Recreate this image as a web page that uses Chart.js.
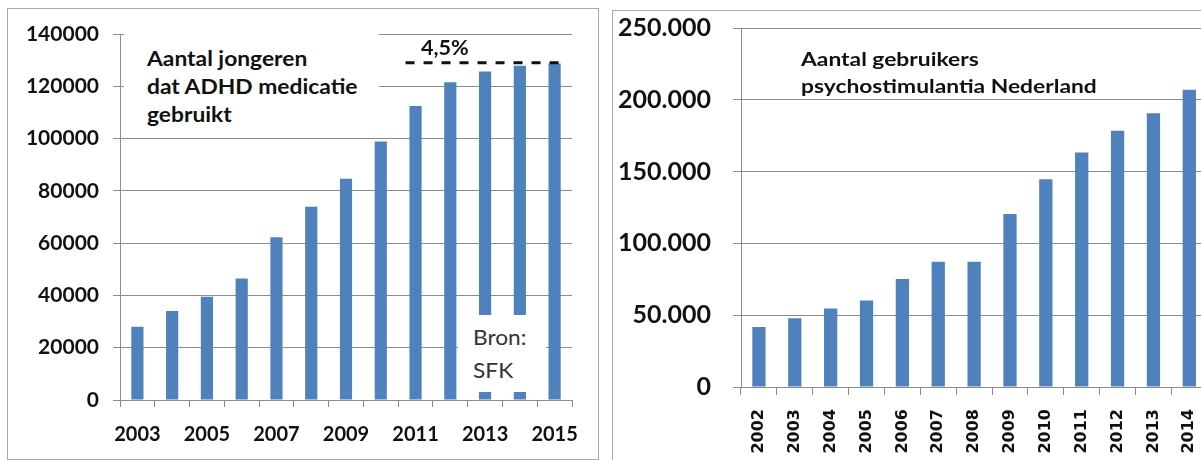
<!DOCTYPE html>
<html>
<head>
<meta charset="utf-8">
<script src="https://cdn.jsdelivr.net/npm/chart.js@4.4.0/dist/chart.umd.min.js"></script>
<style>
  body { margin: 0; background: #fff; }
  #page { position: relative; width: 1201px; height: 460px; overflow: hidden; background: #fff; }
  .panel { position: absolute; border: 1px solid #a9a9a9; box-sizing: border-box; }
  .box { position: absolute; }
  .note { position: absolute; font-family: Lato, sans-serif; color: #111; white-space: nowrap; transform-origin: 0 0; }
</style>
</head>
<body>
<div id="page">
  <div class="panel" style="left:7px; top:8px; width:592px; height:452px;"></div>
  <div class="panel" style="left:612px; top:10px; width:620px; height:460px;"></div>

  <div class="box" style="left:8px; top:8px; width:590px; height:450px;"><canvas id="leftChart"></canvas></div>
  <div class="box" style="left:613px; top:10px; width:610px; height:450px;"><canvas id="rightChart"></canvas></div>

  <div class="note" style="left:124px; top:30px; width:255px; height:103px; background:#fff;"></div>
  <div class="note" style="left:147px; top:44px; font-size:20px; font-weight:bold; line-height:28px; transform:scaleX(1.14);">Aantal jongeren<br>dat ADHD medicatie<br>gebruikt</div>
  <div class="note" style="left:421px; top:35px; font-size:20px; font-weight:bold; transform:scaleX(1.08);">4,5%</div>
  <div class="note" style="left:458px; top:315px; width:88px; height:77px; background:#fff;"></div>
  <div class="note" style="left:473px; top:320px; font-size:21px; line-height:33px; color:#333; transform:scaleX(1.08);">Bron:<br>SFK</div>

  <div class="note" style="left:801px; top:45px; font-size:19px; font-weight:bold; line-height:27px; transform:scaleX(1.2);">Aantal gebruikers<br>psychostimulantia Nederland</div>
</div>
<script>
const leftYears = ["2003", "2004", "2005", "2006", "2007", "2008", "2009", "2010", "2011", "2012", "2013", "2014", "2015"];
const leftUsers = [28000, 34000, 39500, 46500, 62300, 73900, 84600, 98900, 112500, 121500, 125700, 127900, 128700];
const leftYTicks = ["0", "20000", "40000", "60000", "80000", "100000", "120000", "140000"];
const dashValue = 129000;

const rightYears = ["2002", "2003", "2004", "2005", "2006", "2007", "2008", "2009", "2010", "2011", "2012", "2013", "2014"];
const rightUsers = [41700, 47900, 54600, 60200, 75200, 87300, 87300, 120500, 144600, 163300, 178400, 190700, 207000];
const rightYTicks = ["0", "50.000", "100.000", "150.000", "200.000", "250.000"];

const barBlue = "#4f81bd";
const gridGrey = "#8c8c8c";

// dashed line over the last years
const dashPlugin = {
  id: "dashLine",
  afterDatasetsDraw(chart) {
    const { ctx, chartArea, scales } = chart;
    const yy = scales.y.getPixelForValue(dashValue);
    ctx.save();
    ctx.setLineDash([9, 9]);
    ctx.lineWidth = 3;
    ctx.strokeStyle = "#111";
    ctx.beginPath();
    ctx.moveTo(scales.x.getPixelForValue(8) - 10, yy);
    ctx.lineTo(chartArea.right - 6, yy);
    ctx.stroke();
    ctx.restore();
  },
};

new Chart(document.getElementById("leftChart"), {
  type: "bar",
  data: {
    labels: leftYears,
    datasets: [
      {
        label: "Aantal jongeren",
        data: leftUsers,
        backgroundColor: barBlue,
        barPercentage: 0.35,
        categoryPercentage: 1,
      },
    ],
  },
  options: {
    responsive: true,
    maintainAspectRatio: false,
    animation: false,
    layout: { padding: { top: 26, right: 26, bottom: 0, left: 0 } },
    plugins: { legend: { display: false }, tooltip: { enabled: false } },
    scales: {
      x: {
        grid: { drawOnChartArea: false, tickLength: 7, color: gridGrey, offset: true },
        border: { color: gridGrey },
        ticks: {
          autoSkip: false,
          maxRotation: 0,
          padding: 16,
          color: "#111",
          font: { family: "Lato", weight: "bold", size: 20 },
          callback: (v, i) => (i % 2 === 0 ? leftYears[i] : ""),
        },
        afterFit: (s) => { s.height = 58; },
      },
      y: {
        min: 0,
        max: 140000,
        grid: { color: gridGrey, tickLength: 7 },
        border: { color: gridGrey },
        ticks: {
          stepSize: 20000,
          padding: 14,
          color: "#111",
          font: { family: "Lato", weight: "bold", size: 21 },
          callback: (v) => leftYTicks[v / 20000],
        },
        afterFit: (s) => { s.width = 112; s.paddingTop = 0; s.paddingBottom = 0; },
      },
    },
  },
  plugins: [dashPlugin],
});

new Chart(document.getElementById("rightChart"), {
  type: "bar",
  data: {
    labels: rightYears,
    datasets: [
      {
        label: "Aantal gebruikers",
        data: rightUsers,
        backgroundColor: barBlue,
        barPercentage: 0.37,
        categoryPercentage: 1,
      },
    ],
  },
  options: {
    responsive: true,
    maintainAspectRatio: false,
    animation: false,
    layout: { padding: { top: 18, right: 13, bottom: 0, left: 0 } },
    plugins: { legend: { display: false }, tooltip: { enabled: false } },
    scales: {
      x: {
        grid: { drawOnChartArea: false, tickLength: 8, color: gridGrey, offset: true },
        border: { color: gridGrey },
        ticks: {
          autoSkip: false,
          minRotation: 90,
          maxRotation: 90,
          padding: 14,
          color: "#111",
          font: { family: "DejaVu Sans", weight: "bold", size: 16 },
        },
        afterFit: (s) => { s.height = 73; },
      },
      y: {
        min: 0,
        max: 250000,
        grid: { color: gridGrey, tickLength: 8 },
        border: { color: gridGrey },
        ticks: {
          stepSize: 50000,
          padding: 22,
          color: "#111",
          font: { family: "Lato", weight: "bold", size: 25 },
          callback: (v) => rightYTicks[v / 50000],
        },
        afterFit: (s) => { s.width = 128; s.paddingTop = 0; s.paddingBottom = 0; },
      },
    },
  },
});
</script>
</body>
</html>
